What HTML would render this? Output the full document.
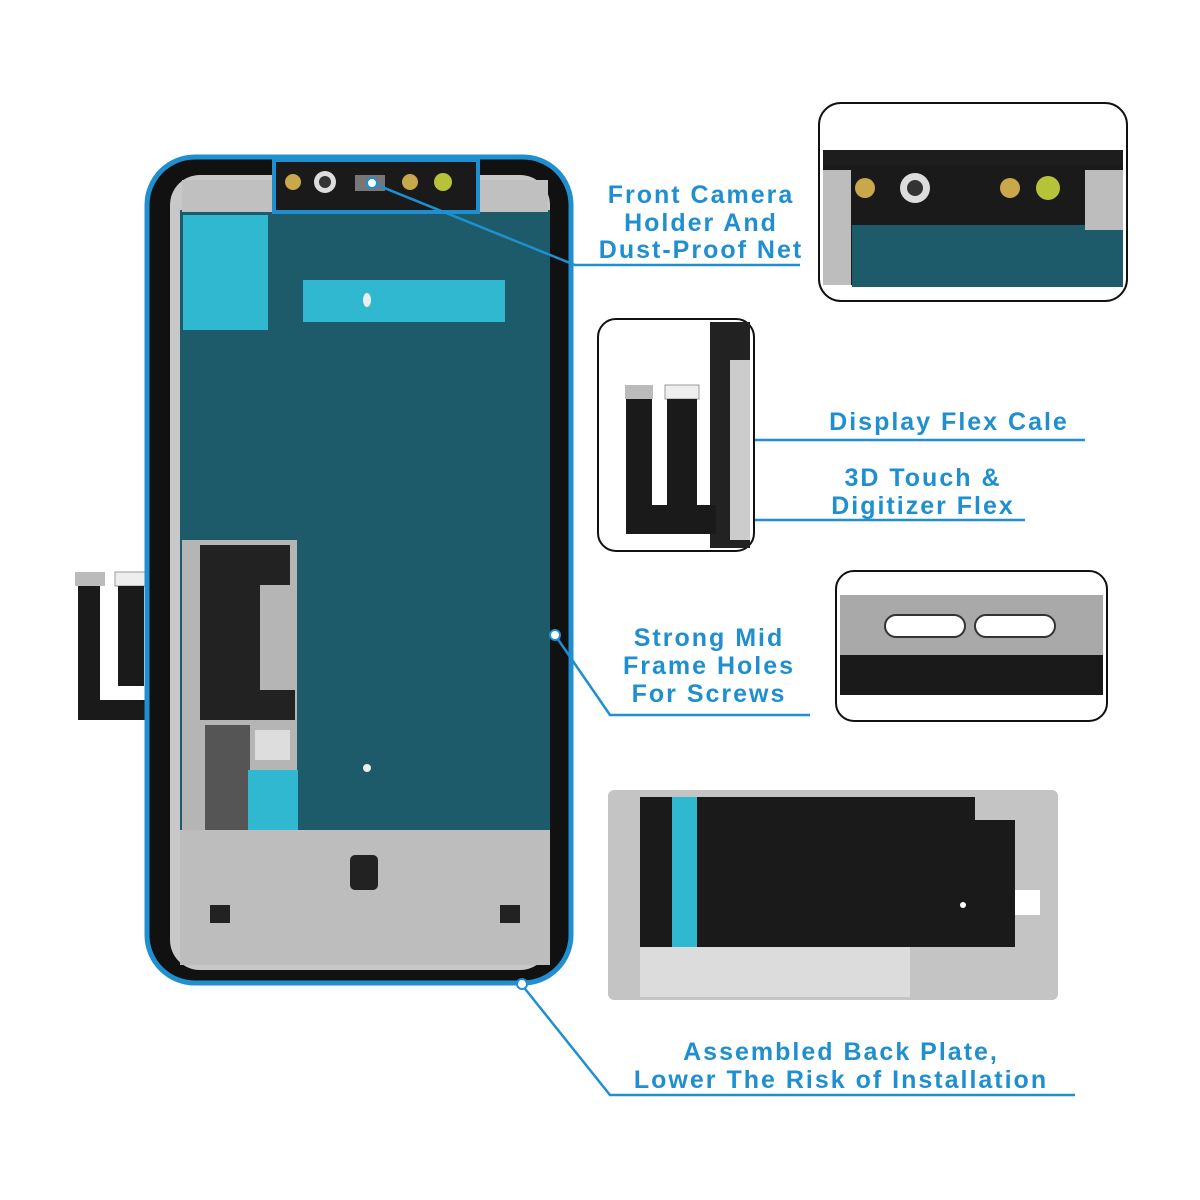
<!DOCTYPE html>
<html><head><meta charset="utf-8"><style>
html,body{margin:0;padding:0;background:#fff;}
svg{display:block}
text{font-family:"Liberation Sans",sans-serif;font-weight:bold;fill:#1f8fd0;font-size:25px;text-anchor:middle;letter-spacing:2px}
</style></head><body>
<svg width="1200" height="1200" viewBox="0 0 1200 1200" xmlns="http://www.w3.org/2000/svg">
<rect x="75" y="572" width="30" height="14" fill="#bbb"/>
<rect x="115" y="572" width="36" height="14" fill="#eee" stroke="#999"/>
<path d="M78 586 h22 v90 h-22z M118 586 h26 v100 h-26z" fill="#1a1a1a"/>
<path d="M78 676 h22 v24 h90 v20 h-112z" fill="#1a1a1a"/>
<rect x="147" y="157" width="424" height="826" rx="48" fill="#111" stroke="#1f8fd0" stroke-width="5"/>
<rect x="170" y="175" width="380" height="795" rx="30" fill="#c8c8c8"/>
<rect x="180" y="210" width="370" height="620" fill="#1d5a6a"/>
<rect x="182" y="180" width="95" height="32" fill="#c0c0c0"/>
<rect x="478" y="180" width="70" height="32" fill="#c0c0c0"/>
<rect x="183" y="215" width="85" height="115" fill="#2fb8cf"/>
<rect x="303" y="280" width="202" height="42" fill="#2fb8cf"/>
<ellipse cx="367" cy="300" rx="4" ry="7" fill="#eee"/>
<rect x="182" y="540" width="115" height="290" fill="#b5b5b5"/>
<rect x="200" y="545" width="90" height="40" fill="#222"/>
<rect x="200" y="580" width="60" height="110" fill="#222"/>
<rect x="200" y="690" width="95" height="30" fill="#222"/>
<rect x="205" y="725" width="45" height="150" fill="#555"/>
<rect x="255" y="730" width="35" height="30" fill="#ddd"/>
<rect x="248" y="770" width="50" height="120" fill="#2fb8cf"/>
<rect x="180" y="830" width="370" height="135" fill="#bdbdbd"/>
<rect x="350" y="855" width="28" height="35" rx="5" fill="#222"/>
<rect x="210" y="905" width="20" height="18" fill="#222"/>
<rect x="500" y="905" width="20" height="18" fill="#222"/>
<circle cx="367" cy="768" r="4" fill="#eee"/>
<rect x="274" y="160" width="204" height="52" fill="#1a1a1a" stroke="#1f8fd0" stroke-width="4"/>
<circle cx="293" cy="182" r="8" fill="#c8a84a"/>
<circle cx="325" cy="182" r="11" fill="#ddd"/><circle cx="325" cy="182" r="6" fill="#333"/>
<rect x="355" y="175" width="30" height="16" fill="#777"/>
<circle cx="410" cy="182" r="8" fill="#c8a84a"/>
<circle cx="443" cy="182" r="9" fill="#b6c23a"/>
<g stroke="#1f8fd0" stroke-width="2.5" fill="none">
<path d="M372 183 L575 265 H800"/>
<path d="M555 635 L610 715 H810"/>
<path d="M522 985 L610 1095 H1075"/>
<path d="M695 398 L720 440 H1085"/>
<path d="M648 480 L675 520 H1025"/>
</g>
<circle cx="372" cy="183" r="5" fill="#fff" stroke="#1f8fd0" stroke-width="2"/>
<circle cx="555" cy="635" r="5" fill="#fff" stroke="#1f8fd0" stroke-width="2"/>
<circle cx="522" cy="984" r="5" fill="#fff" stroke="#1f8fd0" stroke-width="2"/>
<text x="701" y="203">Front Camera</text>
<text x="701" y="231">Holder And</text>
<text x="701" y="258">Dust-Proof Net</text>
<text x="949" y="430">Display Flex Cale</text>
<text x="923" y="486">3D Touch &amp;</text>
<text x="923" y="514">Digitizer Flex</text>
<text x="709" y="646">Strong Mid</text>
<text x="709" y="674">Frame Holes</text>
<text x="709" y="702">For Screws</text>
<text x="841" y="1060">Assembled Back Plate,</text>
<text x="841" y="1088">Lower The Risk of Installation</text>
<rect x="819" y="103" width="308" height="198" rx="22" fill="#fff" stroke="#111" stroke-width="2"/>
<path d="M823 150 H1123 V230 H823z" fill="#1d1d1d"/>
<rect x="823" y="165" width="300" height="120" fill="#1a1a1a"/>
<rect x="852" y="225" width="271" height="62" fill="#1d5a6a"/>
<rect x="823" y="170" width="28" height="115" fill="#bdbdbd"/>
<rect x="1085" y="170" width="38" height="60" fill="#bdbdbd"/>
<circle cx="865" cy="188" r="10" fill="#c8a84a"/>
<circle cx="915" cy="188" r="15" fill="#ddd"/><circle cx="915" cy="188" r="8" fill="#333"/>
<circle cx="1010" cy="188" r="10" fill="#c8a84a"/>
<circle cx="1048" cy="188" r="12" fill="#b6c23a"/>
<rect x="598" y="319" width="156" height="232" rx="18" fill="#fff" stroke="#111" stroke-width="2"/>
<rect x="710" y="322" width="40" height="226" fill="#222"/>
<rect x="730" y="360" width="20" height="180" fill="#ccc"/>
<rect x="625" y="385" width="28" height="14" fill="#bbb"/>
<rect x="665" y="385" width="34" height="14" fill="#eee" stroke="#999"/>
<rect x="626" y="399" width="26" height="135" fill="#1a1a1a"/>
<rect x="667" y="399" width="30" height="130" fill="#1a1a1a"/>
<rect x="626" y="505" width="90" height="29" fill="#1a1a1a"/>
<rect x="836" y="571" width="271" height="150" rx="18" fill="#fff" stroke="#111" stroke-width="2"/>
<rect x="840" y="595" width="263" height="60" fill="#a9a9a9"/>
<rect x="840" y="655" width="263" height="40" fill="#1a1a1a"/>
<rect x="885" y="615" width="80" height="22" rx="11" fill="#fff" stroke="#333" stroke-width="2"/>
<rect x="975" y="615" width="80" height="22" rx="11" fill="#fff" stroke="#333" stroke-width="2"/>
<rect x="608" y="790" width="450" height="210" rx="6" fill="#c4c4c4"/>
<rect x="640" y="797" width="335" height="150" fill="#1a1a1a"/>
<rect x="975" y="820" width="40" height="127" fill="#1a1a1a"/>
<rect x="672" y="797" width="25" height="150" fill="#2fb8cf"/>
<rect x="640" y="947" width="270" height="50" fill="#dcdcdc"/>
<rect x="1015" y="890" width="25" height="25" fill="#fff"/>
<circle cx="963" cy="905" r="3" fill="#fff"/>
</svg>
</body></html>
